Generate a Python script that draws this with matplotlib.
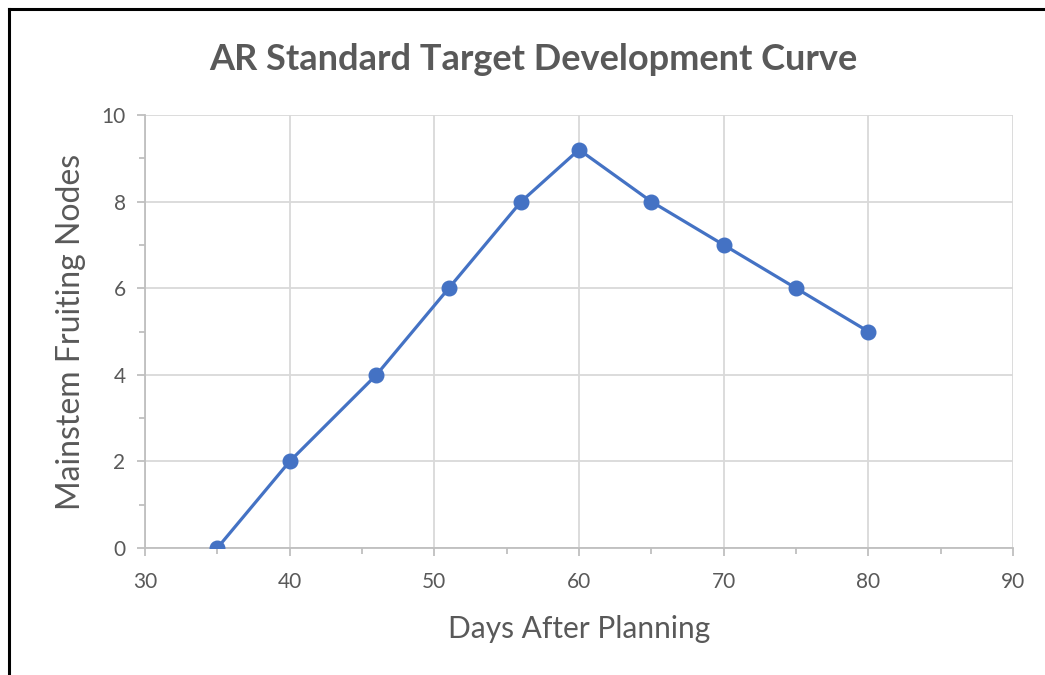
import matplotlib
matplotlib.use("Agg")
import matplotlib.pyplot as plt
from matplotlib.ticker import MultipleLocator
from matplotlib.lines import Line2D

days = [35, 40, 46, 51, 56, 60, 65, 70, 75, 80]
nodes = [0, 2, 4, 6, 8, 9.2, 8, 7, 6, 5]
title = "AR Standard Target Development Curve"
xlabel = "Days After Planning"
ylabel = "Mainstem Fruiting Nodes"

plt.rcParams['font.family'] = ['Lato', 'DejaVu Sans']
txt = '#595959'
grid_c = '#d9d9d9'
spine_c = '#bfbfbf'

fig = plt.figure(figsize=(10.45, 6.75), dpi=100)
ax = fig.add_axes([145/1045, 1-548/675, (1013-145)/1045, (548-115)/675])

ax.plot(days, nodes, color='#4472C4', linewidth=2.3, marker='o', markersize=10.5,
        markerfacecolor='#4472C4', markeredgecolor='#4472C4', zorder=3)

ax.set_xlim(30, 90)
ax.set_ylim(0, 10)
ax.xaxis.set_major_locator(MultipleLocator(10))
ax.xaxis.set_minor_locator(MultipleLocator(5))
ax.yaxis.set_major_locator(MultipleLocator(2))
ax.yaxis.set_minor_locator(MultipleLocator(1))
ax.grid(True, which='major', color=grid_c, linewidth=1.3, zorder=0)
ax.set_axisbelow(True)
for s in ['top', 'right']:
    ax.spines[s].set_visible(False)
for s in ['left', 'bottom']:
    ax.spines[s].set_color(spine_c)
    ax.spines[s].set_linewidth(1.3)
ax.tick_params(which='major', direction='out', length=6, width=1.3, color=spine_c,
               labelcolor=txt, labelsize=15, pad=6)
ax.tick_params(which='minor', direction='out', length=4, width=1.3, color=spine_c)
ax.tick_params(axis='x', which='major', pad=11)
ax.tick_params(axis='y', which='major', pad=8)

ax.set_xlabel(xlabel, fontsize=21.5, color=txt, labelpad=17)
ax.set_ylabel(ylabel, fontsize=23, color=txt, labelpad=11)
fig.text(533/1045, 1-60/675, title, ha='center', va='center', fontsize=26,
         fontweight='bold', color=txt)

# frame (left and top edges)
fig.add_artist(Line2D([9/1045, 9/1045], [0, 1-9/675], transform=fig.transFigure,
                      color='black', linewidth=2.2))
fig.add_artist(Line2D([9/1045, 1], [1-9/675, 1-9/675], transform=fig.transFigure,
                      color='black', linewidth=2.2))

fig.savefig('out.png', dpi=100)
